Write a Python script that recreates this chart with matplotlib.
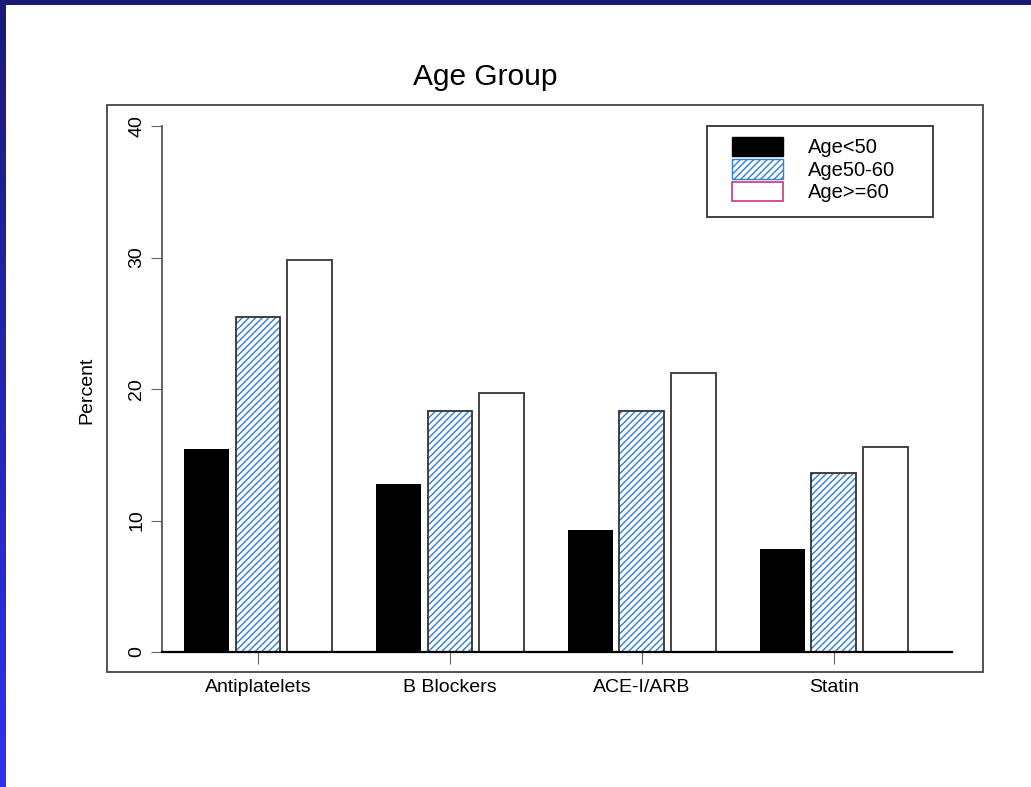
import numpy as np
import matplotlib
matplotlib.use("Agg")
import matplotlib.pyplot as plt
from matplotlib.patches import Patch, Rectangle

plt.rcParams['font.family'] = ['Liberation Sans', 'DejaVu Sans']
plt.rcParams['hatch.linewidth'] = 1.0

# values
categories = ['Antiplatelets', 'B Blockers', 'ACE-I/ARB', 'Statin']
groupNames = ['Age<50', 'Age50-60', 'Age>=60']
ageUnder50 = [15.4, 12.8, 9.3, 7.8]
age50to60 = [25.5, 18.3, 18.3, 13.6]
age60plus = [29.8, 19.7, 21.2, 15.6]
yTicks = [0, 10, 20, 30, 40]

W, H = 1031, 787
hatchBlue = '#2f7fd6'
pink = '#cc3380'

fig = plt.figure(figsize=(W / 100, H / 100), dpi=100)

# blue slide border (top and left)
top = fig.add_axes([0, 1 - 5 / H, 1, 5 / H])
top.imshow(np.ones((1, 2, 3)) * np.array([0.10, 0.10, 0.47]), aspect='auto')
top.axis('off')
left = fig.add_axes([0, 0, 6 / W, 1])
grad = np.linspace(0, 1, 256)[:, None, None]
c0 = np.array([0.10, 0.10, 0.47])
c1 = np.array([0.19, 0.19, 0.95])
left.imshow(c0 + (c1 - c0) * grad, aspect='auto')
left.axis('off')

# outer frame
fig.patches.append(Rectangle((107 / W, 1 - 672 / H), (983 - 107) / W, (672 - 105) / H,
                             transform=fig.transFigure, fill=False, edgecolor='#444444', lw=1.3))

ax = fig.add_axes([162 / W, 1 - 652 / H, (952 - 162) / W, (652 - 126) / H])
x = np.arange(len(categories))
w = 0.234
off = 0.27

ax.bar(x - off, ageUnder50, w, color='black', linewidth=0)
ax.bar(x, age50to60, w, color='white', edgecolor=hatchBlue, hatch='/////', linewidth=0)
ax.bar(x, age50to60, w, fill=False, edgecolor='#333333', linewidth=1.3)
ax.bar(x + off, age60plus, w, color='white', edgecolor='#444444', linewidth=1.4)

ax.set_xlim(-0.5, 3.615)
ax.set_ylim(0, 40)
ax.set_xticks(x)
ax.set_xticklabels(categories, fontsize=14)
ax.set_yticks(yTicks)
ax.set_yticklabels([str(t) for t in yTicks], fontsize=14, rotation=90, va='center')
ax.tick_params(axis='x', length=8.6, width=0.8, color='#666666', pad=10.5)
ax.tick_params(axis='y', length=8, width=0.8, color='#666666', pad=4)

for s in ['top', 'right']:
    ax.spines[s].set_visible(False)
ax.spines['left'].set_color('#555555')
ax.spines['left'].set_linewidth(1.3)
ax.spines['bottom'].set_color('black')
ax.spines['bottom'].set_linewidth(1.6)

ax.set_ylabel('Percent', fontsize=14, va='center')
ax.yaxis.set_label_coords(-0.095, 0.498)

fig.text(485 / W, 1 - 85 / H, 'Age Group', fontsize=21.5, ha='center', va='baseline')

# legend box
fig.patches.append(Rectangle((707 / W, 1 - 217 / H), 226 / W, 91 / H,
                             transform=fig.transFigure, fill=False, edgecolor='#333333', lw=1.3))
handles = [Patch(facecolor='black', edgecolor='black'),
           Patch(facecolor='white', edgecolor=hatchBlue, hatch='/////', lw=1),
           Patch(facecolor='white', edgecolor=pink, lw=1.2)]
fs = 14.5 * 100 / 72
ax.legend(handles, groupNames, loc='upper left', bbox_to_anchor=(732 / W, 1 - 137 / H),
          bbox_transform=fig.transFigure, frameon=False, fontsize=14.5, borderpad=0,
          borderaxespad=0, handlelength=51 / fs, handleheight=22 / fs,
          handletextpad=25 / fs, labelspacing=0.1)

fig.savefig('out.png', dpi=100)
